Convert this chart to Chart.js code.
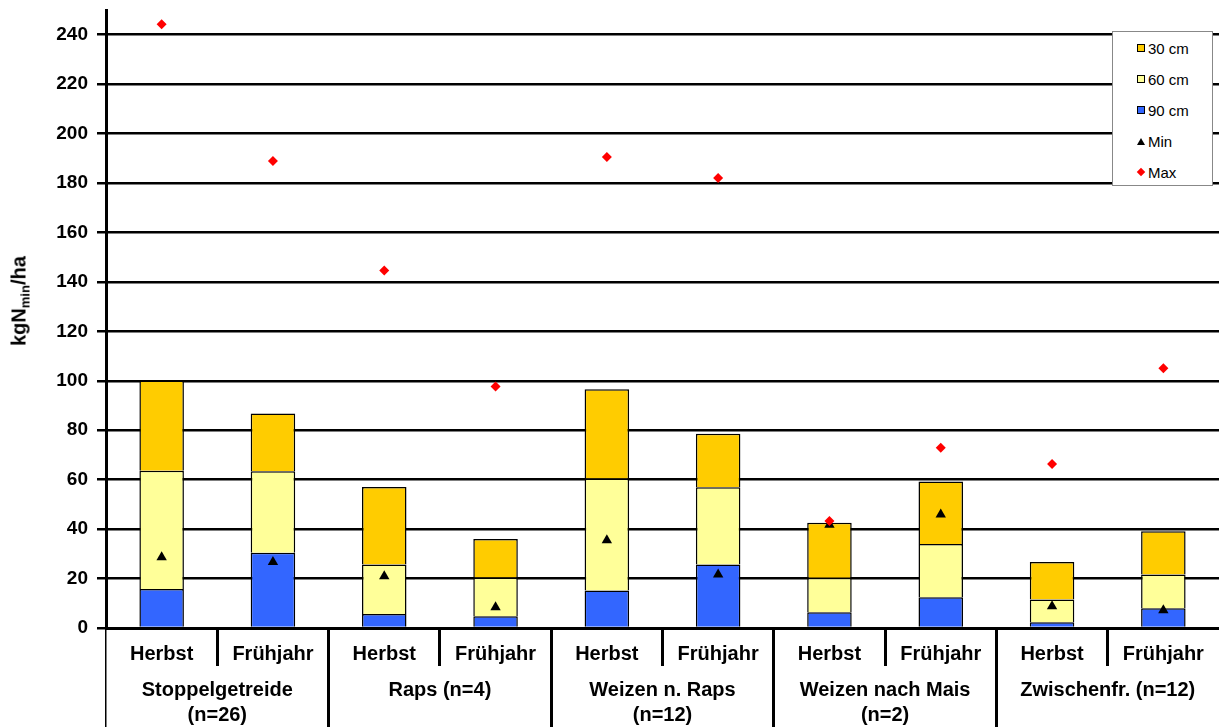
<!DOCTYPE html>
<html>
<head>
<meta charset="utf-8">
<script src="https://cdn.jsdelivr.net/npm/chart.js@4.4.1/dist/chart.umd.min.js"></script>
<style>
html,body{margin:0;padding:0;background:#fff;}
#wrap{position:relative;width:1219px;height:727px;overflow:hidden;}
#c{position:absolute;left:0;top:0;}
#ytitle{position:absolute;left:20px;top:301px;transform:translate(-50%,-50%) rotate(-90deg);font:bold 20px "Liberation Sans",Arial,sans-serif;white-space:nowrap;color:#000;}
#ytitle sub{font-size:13px;vertical-align:-4px;}
#legend{position:absolute;left:1112px;top:31px;width:99px;height:153px;border:1px solid #888;background:#fff;font:15px "Liberation Sans",Arial,sans-serif;color:#000;}
.li{position:absolute;left:23px;height:20px;display:flex;align-items:center;white-space:nowrap;}
.mk{width:10px;height:20px;display:flex;align-items:center;justify-content:center;margin-right:2px;}
.sq{width:8px;height:8px;box-sizing:border-box;border:1px solid #000;}
.tri{width:0;height:0;border-left:4px solid transparent;border-right:4px solid transparent;border-bottom:7px solid #000;}
.dia{width:6px;height:6px;background:#f00;transform:rotate(45deg);}
</style>
</head>
<body>
<div id="wrap">
  <canvas id="c"></canvas>
  <div id="ytitle">kgN<sub>min</sub>/ha</div>
  <div id="legend"></div>
</div>
<script>
// ---- data ----
const seasons = ['Herbst','Frühjahr','Herbst','Frühjahr','Herbst','Frühjahr','Herbst','Frühjahr','Herbst','Frühjahr'];
const groups = [['Stoppelgetreide','(n=26)'],['Raps (n=4)'],['Weizen n. Raps','(n=12)'],['Weizen nach Mais','(n=2)'],['Zwischenfr. (n=12)']];
const n90 = [15.8, 30.4, 5.7, 4.8, 15.2, 25.7, 6.4, 12.4, 2.3, 8.0];
const n60 = [47.8, 33.0, 20.0, 15.6, 45.3, 31.2, 13.9, 21.6, 9.2, 13.6];
const n30 = [36.5, 23.4, 31.3, 15.6, 36.1, 21.7, 22.3, 25.3, 15.2, 17.5];
const minVals = [28.6, 26.7, 20.9, 8.4, 35.5, 21.6, 41.8, 45.9, 8.8, 7.2];
const maxVals = [244.2, 188.9, 144.6, 97.7, 190.5, 182.0, 43.3, 72.9, 66.3, 105.1];
const yTicks = [0, 20, 40, 60, 80, 100, 120, 140, 160, 180, 200, 220, 240];
const legendOrder = ['30 cm', '60 cm', '90 cm', 'Min', 'Max'];

const FONT = '"Liberation Sans", Arial, sans-serif';

const datasets = [
  {type:'line', label:'Max', data:maxVals, stack:'max', showLine:false, pointStyle:'rectRot', pointRadius:5, pointHoverRadius:5, pointBackgroundColor:'#ff0000', pointBorderWidth:0, borderWidth:0, backgroundColor:'#ff0000', borderColor:'#ff0000', order:0},
  {type:'line', label:'Min', data:minVals, stack:'min', showLine:false, pointStyle:'triangle', pointRadius:6, pointHoverRadius:6, pointBackgroundColor:'#000', pointBorderWidth:0, borderWidth:0, backgroundColor:'#000', borderColor:'#000', order:1},
  {type:'bar', label:'90 cm', data:n90, stack:'bars', backgroundColor:'#3366ff', borderColor:'#000', borderWidth:1.5, order:2},
  {type:'bar', label:'60 cm', data:n60, stack:'bars', backgroundColor:'#ffff99', borderColor:'#000', borderWidth:1.5, order:2},
  {type:'bar', label:'30 cm', data:n30, stack:'bars', backgroundColor:'#ffcc00', borderColor:'#000', borderWidth:1.5, order:2}
];

// HTML legend from dataset labels
const legendEl = document.getElementById('legend');
const centers = [16, 47, 78, 109, 140];
legendOrder.forEach((lab, i) => {
  const ds = datasets.find(d => d.label === lab);
  const item = document.createElement('div');
  item.className = 'li';
  item.style.top = (centers[i] - 10) + 'px';
  const mk = document.createElement('div');
  mk.className = 'mk';
  const inner = document.createElement('div');
  if (ds.type === 'bar') { inner.className = 'sq'; inner.style.background = ds.backgroundColor; }
  else if (ds.pointStyle === 'triangle') { inner.className = 'tri'; }
  else { inner.className = 'dia'; }
  mk.appendChild(inner);
  item.appendChild(mk);
  const t = document.createElement('span');
  t.textContent = lab;
  item.appendChild(t);
  legendEl.appendChild(item);
});

const sepColor = ctx => (ctx.index === undefined) ? 'rgba(0,0,0,0)' : '#000';
const sepWidth = ctx => ctx.index === 0 ? 1.5 : 3;

new Chart(document.getElementById('c'), {
  data: { labels: seasons, datasets },
  options: {
    responsive: true,
    maintainAspectRatio: false,
    animation: false,
    devicePixelRatio: 1,
    layout: { autoPadding: false, padding: { top: 10, right: 0, bottom: 0, left: 0 } },
    plugins: { legend: { display: false }, tooltip: { enabled: false }, title: { display: false } },
    datasets: { bar: { categoryPercentage: 1.0, barPercentage: 0.4 } },
    scales: {
      x: {
        type: 'category',
        position: 'bottom',
        stacked: true,
        weight: 0,
        offset: true,
        border: { display: true, color: '#000', width: 3 },
        grid: { offset: true, drawOnChartArea: false, drawTicks: true, tickLength: 38, color: sepColor, lineWidth: sepWidth },
        ticks: { autoSkip: false, maxRotation: 0, minRotation: 0, color: '#000', padding: -23.5, font: { family: FONT, size: 20, weight: 'bold', lineHeight: 1.2 } },
        afterFit: s => { s.height = 38; s.paddingLeft = 0; s.paddingRight = 0; }
      },
      x2: {
        type: 'category',
        position: 'bottom',
        labels: groups,
        weight: 1,
        offset: true,
        border: { display: false },
        grid: { offset: true, drawOnChartArea: false, drawTicks: true, tickLength: 61, color: sepColor, lineWidth: sepWidth },
        ticks: { autoSkip: false, maxRotation: 0, minRotation: 0, color: '#000', padding: -49.5, font: { family: FONT, size: 20, weight: 'bold', lineHeight: 1.25 } },
        afterFit: s => { s.height = 61; s.paddingLeft = 0; s.paddingRight = 0; }
      },
      y: {
        type: 'linear',
        position: 'left',
        stacked: true,
        min: 0,
        max: 250,
        border: { display: true, color: '#000', width: 3 },
        grid: { color: '#000', lineWidth: 2.5, tickLength: 9, drawTicks: true },
        ticks: { stepSize: 20, color: '#000', padding: 9, font: { family: FONT, size: 19, weight: 'bold' } },
        afterBuildTicks: s => { s.ticks = yTicks.map(v => ({ value: v })); },
        afterFit: s => { s.width = 106; s.paddingTop = 0; s.paddingBottom = 0; }
      }
    }
  }
});
</script>
</body>
</html>
